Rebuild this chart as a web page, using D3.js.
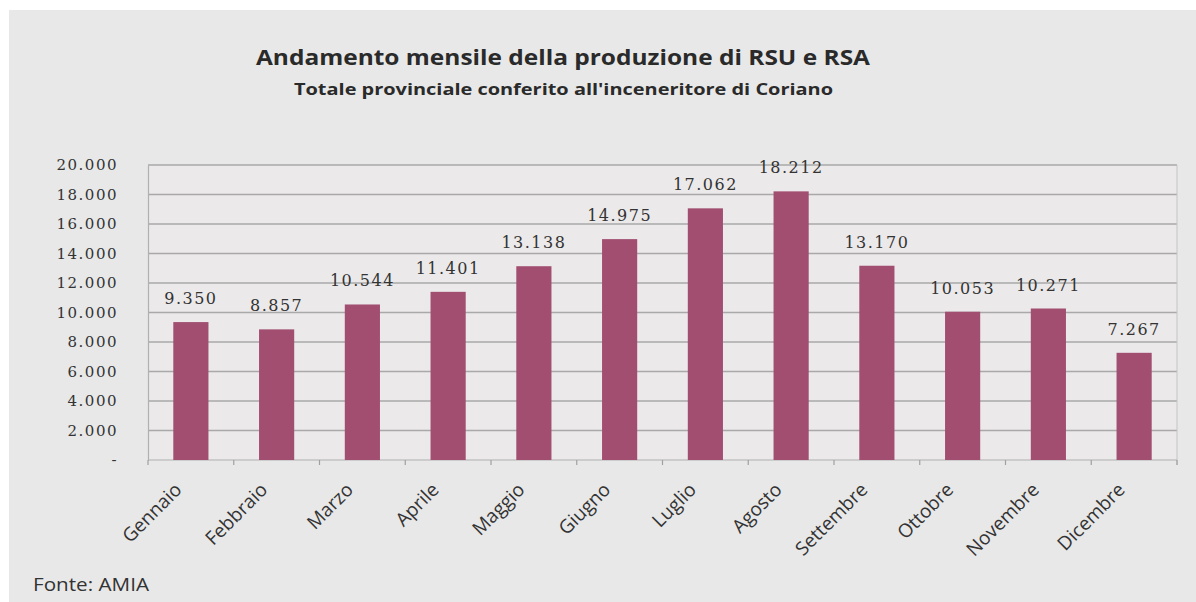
<!DOCTYPE html>
<html>
<head>
<meta charset="utf-8">
<script src="https://cdn.jsdelivr.net/npm/d3@7"></script>
<style>
  html, body { margin: 0; padding: 0; background: #ffffff; }
  svg { display: block; }
</style>
</head>
<body>
<svg id="chart" width="1196" height="602"></svg>
<script>
// Monthly waste delivered to the incinerator (tonnes)
const months = ["Gennaio", "Febbraio", "Marzo", "Aprile", "Maggio", "Giugno",
                "Luglio", "Agosto", "Settembre", "Ottobre", "Novembre", "Dicembre"];
const tonnes = [9350, 8857, 10544, 11401, 13138, 14975, 17062, 18212, 13170, 10053, 10271, 7267];
const valueLabels = ["9.350", "8.857", "10.544", "11.401", "13.138", "14.975",
                     "17.062", "18.212", "13.170", "10.053", "10.271", "7.267"];
const yTicks = [0, 2000, 4000, 6000, 8000, 10000, 12000, 14000, 16000, 18000, 20000];

const titleText = "Andamento mensile della produzione di RSU e RSA";
const subtitleText = "Totale provinciale conferito all'inceneritore di Coriano";
const sourceText = "Fonte: AMIA";

const svg = d3.select("#chart");
const W = 1196, H = 602;

// panel background
svg.append("rect").attr("x", 9).attr("y", 10).attr("width", W - 9).attr("height", H - 10)
  .attr("fill", "#e8e8e8");

const plot = { left: 148, right: 1177, top: 165, bottom: 460 };

const x = d3.scaleBand().domain(months).range([plot.left, plot.right]).paddingInner(0.59).paddingOuter(0.295);
const y = d3.scaleLinear().domain([0, 20000]).range([plot.bottom, plot.top]);

// plot area
svg.append("rect").attr("x", plot.left).attr("y", plot.top)
  .attr("width", plot.right - plot.left).attr("height", plot.bottom - plot.top)
  .attr("fill", "#ebe9ea");

// horizontal gridlines
svg.append("g").selectAll("line").data(yTicks.filter(d => d > 0)).join("line")
  .attr("x1", plot.left).attr("x2", plot.right)
  .attr("y1", d => y(d)).attr("y2", d => y(d))
  .attr("stroke", "#a9a9a9").attr("stroke-width", 1.5);

// right border of plot
svg.append("line").attr("x1", plot.right).attr("x2", plot.right)
  .attr("y1", plot.top).attr("y2", plot.bottom + 5)
  .attr("stroke", "#c4c4c4").attr("stroke-width", 1);

// y axis
const yAxis = d3.axisLeft(y).tickValues(yTicks).tickSize(0).tickPadding(30)
  .tickFormat(d => d === 0 ? "-" : d3.format(",")(d).replace(/,/g, "."));
const gy = svg.append("g").attr("transform", `translate(${plot.left},0)`).call(yAxis);
gy.select(".domain").attr("stroke", "#b0b0b0").attr("stroke-width", 1.2);
gy.selectAll("text").attr("font-family", "'DejaVu Serif', serif").attr("font-size", 15)
  .attr("letter-spacing", "1.5px").attr("fill", "#333333");

// x axis with ticks on category boundaries
const gx = svg.append("g").attr("transform", `translate(0,${plot.bottom})`);
gx.append("line").attr("x1", plot.left).attr("x2", plot.right).attr("y1", 0).attr("y2", 0)
  .attr("stroke", "#b0b0b0").attr("stroke-width", 1.2);
const step = x.step();
const boundaries = d3.range(months.length + 1).map(i => plot.left + i * step);
gx.selectAll("line.tick").data(boundaries).join("line").attr("class", "tick")
  .attr("x1", d => d).attr("x2", d => d).attr("y1", 0).attr("y2", 5)
  .attr("stroke", "#a0a0a0").attr("stroke-width", 1.2);

gx.selectAll("text").data(months).join("text")
  .attr("transform", d => `translate(${x(d) + x.bandwidth() / 2 - 8},${31}) rotate(-45)`)
  .attr("text-anchor", "end")
  .attr("font-family", "'Open Sans', sans-serif").attr("font-size", 19)
  .attr("fill", "#333333")
  .text(d => d);

// bars
svg.append("g").selectAll("rect").data(tonnes).join("rect")
  .attr("x", (d, i) => x(months[i]))
  .attr("y", d => y(d))
  .attr("width", x.bandwidth())
  .attr("height", d => y(0) - y(d))
  .attr("fill", "#a14e71");

// value labels
svg.append("g").selectAll("text").data(tonnes).join("text")
  .attr("x", (d, i) => x(months[i]) + x.bandwidth() / 2)
  .attr("y", d => y(d) - 18)
  .attr("text-anchor", "middle")
  .attr("font-family", "'DejaVu Serif', serif").attr("font-size", 16)
  .attr("letter-spacing", "1.5px")
  .attr("fill", "#333333")
  .text((d, i) => valueLabels[i]);

// titles
svg.append("text").attr("x", 256).attr("y", 65)
  .attr("font-family", "'Open Sans', sans-serif").attr("font-weight", "bold").attr("font-size", 22)
  .attr("fill", "#2a2a2a").attr("textLength", 614).attr("lengthAdjust", "spacingAndGlyphs")
  .text(titleText);
svg.append("text").attr("x", 294).attr("y", 95)
  .attr("font-family", "'Open Sans', sans-serif").attr("font-weight", "bold").attr("font-size", 16)
  .attr("fill", "#2a2a2a").attr("textLength", 539).attr("lengthAdjust", "spacingAndGlyphs")
  .text(subtitleText);

// source note
svg.append("text").attr("x", 33).attr("y", 591)
  .attr("font-family", "'Open Sans', sans-serif").attr("font-size", 19)
  .attr("fill", "#333333").attr("textLength", 116).attr("lengthAdjust", "spacingAndGlyphs")
  .text(sourceText);
</script>
</body>
</html>
